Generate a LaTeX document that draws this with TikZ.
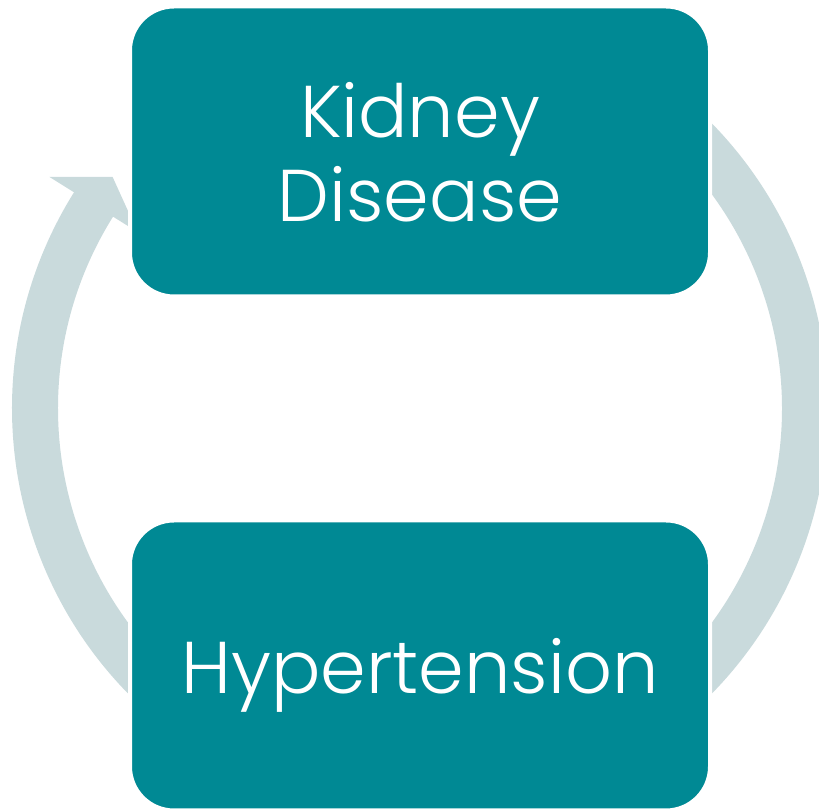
\documentclass[tikz,border=0pt]{standalone}
\usepackage{fontspec}
\setmainfont{Poppins}[UprightFont=* Light]
\usetikzlibrary{backgrounds,calc}

\definecolor{boxteal}{RGB}{0,137,148}
\definecolor{ringgray}{RGB}{201,218,220}

\tikzset{
    stagebox/.style={rectangle, rounded corners=33pt, fill=boxteal, draw=white,
        line width=3pt, minimum width=435pt, minimum height=217.5pt, inner sep=0pt,
        text=white, align=center, text depth=0pt, font=\fontsize{55}{63}\selectfont},
    ringband/.style={draw=ringgray, line width=34.5pt},
}

\begin{document}
\begin{tikzpicture}[x=0.75pt, y=0.75pt]
        \useasboundingbox (0, 0) rectangle (819, 809);

        % The two stages
        \node[stagebox] (kidney) at (420, 657.5) {Kidney\\Disease};
        \node[stagebox] (hyper) at (420, 143.5) {Hypertension};

        % Centre of the cycle, halfway between the stages
        \coordinate (ring) at ($(kidney)!0.5!(hyper)$);

        % Cycle band behind the boxes
        \begin{scope}[on background layer]
            % Left band, hypertension up to kidney disease
            \draw[ringband] (ring) ++(233:385) arc[start angle=233, end angle=147.6, radius=385];
            \fill[ringgray, shift={(ring)}] (148:437) -- (143:385) -- (148:333) -- cycle;

            % Right band, kidney disease down to hypertension
            \draw[ringband] (ring) ++(47:385) arc[start angle=47, end angle=-47, radius=385];
        \end{scope}
    \end{tikzpicture}
\end{document}
